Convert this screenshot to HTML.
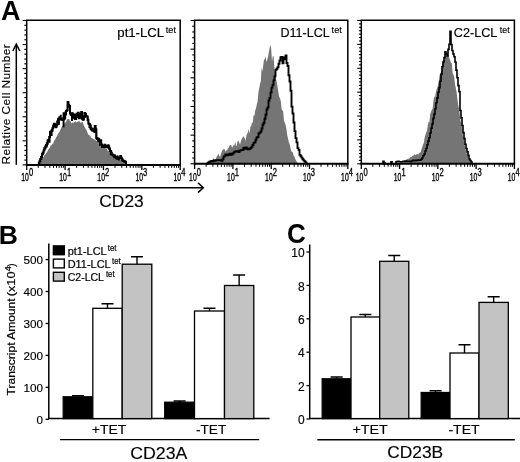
<!DOCTYPE html>
<html><head><meta charset="utf-8"><title>Figure</title>
<style>html,body{margin:0;padding:0;background:#fff}body{width:520px;height:462px;overflow:hidden;font-family:"Liberation Sans",sans-serif}svg text{font-family:"Liberation Sans",sans-serif;fill:#000}</style></head>
<body>
<svg width="520" height="462" viewBox="0 0 520 462" style="display:block;will-change:transform">
<defs><filter id="soft" x="0" y="0" width="100%" height="100%" filterUnits="userSpaceOnUse"><feGaussianBlur stdDeviation="0.38"/></filter></defs>
<rect width="520" height="462" fill="#fff"/>
<g filter="url(#soft)">
<rect x="-5" y="-5" width="530" height="472" fill="#fff"/>
<path d="M39.5,164.9L39.5,164.9L40.3,163.3L41.1,161.3L41.9,159.2L42.7,157.7L43.5,157.0L44.3,155.6L45.1,154.4L45.9,153.7L46.7,152.4L47.5,151.3L48.3,149.5L49.1,148.6L49.9,147.4L50.7,145.5L51.5,145.2L52.3,143.9L53.1,143.7L53.9,141.4L54.7,139.8L55.5,139.1L56.3,137.1L57.1,136.1L57.9,134.0L58.7,132.8L59.5,131.7L60.3,130.0L61.1,128.2L61.9,126.2L62.7,125.8L63.5,124.4L64.3,123.9L65.1,122.6L65.9,122.1L66.7,120.2L67.5,119.1L68.3,118.7L69.1,119.1L69.9,121.0L70.7,121.4L71.5,123.5L72.3,122.4L73.1,122.8L73.9,122.7L74.7,122.0L75.5,121.0L76.3,122.6L77.1,121.6L77.9,122.2L78.7,120.8L79.5,121.3L80.3,122.4L81.1,122.9L81.9,121.4L82.7,122.0L83.5,124.5L84.3,126.6L85.1,127.8L85.9,129.5L86.7,130.3L87.5,132.8L88.3,134.7L89.1,135.1L89.9,135.5L90.7,136.7L91.5,138.3L92.3,137.9L93.1,139.2L93.9,139.1L94.7,139.8L95.5,140.2L96.3,140.9L97.1,142.1L97.9,142.1L98.7,143.4L99.5,143.7L100.3,144.5L101.1,145.7L101.9,144.8L102.7,146.5L103.5,147.1L104.3,147.0L105.1,148.3L105.9,148.7L106.7,148.7L107.5,150.4L108.3,150.9L109.1,151.9L109.9,152.7L110.7,153.9L111.5,154.2L112.3,154.9L113.1,155.7L113.9,155.5L114.7,156.9L115.5,156.8L116.3,157.7L117.1,157.8L117.9,158.2L118.7,158.8L119.5,159.7L120.3,159.8L121.1,159.9L121.9,160.6L122.7,161.0L123.5,161.7L124.3,162.2L125.1,163.0L125.9,163.6L126.7,164.6L126.7,164.9Z" fill="#757575" stroke="none"/>
<path d="M38.0,164.9V164.9H38.8V162.7H39.6V161.0H40.4V158.9H41.2V157.3H42.0V153.8H42.8V152.5H43.6V150.4H44.4V148.3H45.2V146.6H46.0V145.1H46.8V143.3H47.6V140.6H48.4V140.0H49.2V136.9H50.0V131.7H50.8V134.9H51.6V130.9H52.4V128.3H53.2V125.7H54.0V123.7H54.8V126.4H55.6V124.9H56.4V125.2H57.2V121.4H58.0V124.1H58.8V118.6H59.6V118.9H60.4V118.8H61.2V119.7H62.0V119.6H62.8V120.1H63.6V113.2H64.4V117.6H65.2V114.6H66.0V111.1H66.8V110.3H67.6V102.1H68.4V104.8H69.2V105.9H70.0V113.2H70.8V113.5H71.6V113.2H72.4V117.7H73.2V114.5H74.0V115.8H74.8V118.5H75.6V115.1H76.4V113.7H77.2V114.9H78.0V112.8H78.8V118.3H79.6V114.1H80.4V115.0H81.2V112.1H82.0V118.8H82.8V119.8H83.6V116.8H84.4V113.1H85.2V113.9H86.0V116.5H86.8V116.5H87.6V120.0H88.4V123.5H89.2V124.2H90.0V125.4H90.8V128.9H91.6V128.6H92.4V130.5H93.2V129.3H94.0V130.7H94.8V126.0H95.6V129.6H96.4V137.9H97.2V138.4H98.0V138.7H98.8V140.3H99.6V141.9H100.4V140.2H101.2V144.6H102.0V146.7H102.8V146.5H103.6V147.1H104.4V144.8H105.2V146.5H106.0V145.7H106.8V146.0H107.6V145.7H108.4V146.6H109.2V148.4H110.0V151.2H110.8V154.3H111.6V154.2H112.4V154.9H113.2V155.5H114.0V155.4H114.8V156.7H115.6V158.3H116.4V156.8H117.2V158.7H118.0V158.6H118.8V157.6H119.6V157.2H120.4V157.0H121.2V158.6H122.0V159.6H122.8V161.0H123.6V160.8H124.4V161.5H125.2V161.8H126.0V163.4V164.9" fill="none" stroke="#000" stroke-width="2.0" stroke-linejoin="miter"/>
<path d="M38.0,164.9V164.9H38.7V163.3H39.4V162.0H40.1V159.2H40.8V156.6H41.5V156.0H42.2V154.8H42.9V153.9H43.6V149.5H44.3V147.7H45.0V148.8H45.7V146.9H46.4V147.0H47.1V144.4H47.8V140.9H48.5V138.8H49.2V142.1H49.9V135.2H50.6V132.5H51.3V129.9H52.0V130.5H52.7V128.3H53.4V123.6H54.1V123.6H54.8V126.9H55.5V127.7H56.2V127.5H56.9V124.6H57.6V118.9H58.3V123.0H59.0V116.9H59.7V118.6H60.4V115.4H61.1V119.3H61.8V118.1H62.5V120.1H63.2V126.6H63.9V118.3H64.6V119.2H65.3V111.4H66.0V111.3H66.7V110.2H67.4V104.8H68.1V104.5H68.8V107.5H69.5V108.5H70.2V115.2H70.9V114.7H71.6V120.3H72.3V113.2H73.0V114.7H73.7V115.1H74.4V119.4H75.1V117.4H75.8V119.4H76.5V115.0H77.2V117.5H77.9V117.5H78.6V117.9H79.3V115.9H80.0V117.8H80.7V115.4H81.4V118.6H82.1V115.6H82.8V119.7H83.5V119.2H84.2V117.3H84.9V115.7H85.6V116.5H86.3V115.9H87.0V116.3H87.7V119.2H88.4V123.5H89.1V127.5H89.8V127.9H90.5V129.5H91.2V130.5H91.9V130.7H92.6V130.0H93.3V131.5H94.0V132.3H94.7V126.1H95.4V128.0H96.1V139.0H96.8V139.4H97.5V141.2H98.2V141.6H98.9V138.7H99.6V145.2H100.3V145.2H101.0V144.5H101.7V147.3H102.4V147.0H103.1V145.3H103.8V146.2H104.5V146.7H105.2V147.6H105.9V147.0H106.6V146.1H107.3V148.0H108.0V144.9H108.7V148.9H109.4V151.0H110.1V150.9H110.8V150.6H111.5V152.4H112.2V154.4H112.9V155.5H113.6V157.1H114.3V155.0H115.0V156.6H115.7V157.7H116.4V157.5H117.1V156.1H117.8V159.0H118.5V159.8H119.2V158.1H119.9V155.7H120.6V155.6H121.3V157.7H122.0V161.0H122.7V160.6H123.4V160.7H124.1V162.1H124.8V161.4H125.5V163.0H126.2V163.9V164.9" fill="none" stroke="#000" stroke-width="1.2" stroke-linejoin="miter"/>
<path d="M208.0,163.8L208.0,163.8L208.8,163.3L209.6,162.8L210.4,162.6L211.2,161.6L212.0,160.1L212.8,159.7L213.6,157.9L214.4,160.6L215.2,159.9L216.0,158.6L216.8,156.4L217.6,155.6L218.4,153.5L219.2,155.4L220.0,157.3L220.8,154.4L221.6,152.0L222.4,150.0L223.2,149.7L224.0,148.4L224.8,149.8L225.6,151.8L226.4,150.6L227.2,149.7L228.0,148.2L228.8,147.8L229.6,145.6L230.4,145.1L231.2,145.0L232.0,147.7L232.8,146.4L233.6,145.1L234.4,145.5L235.2,141.3L236.0,146.1L236.8,145.4L237.6,141.0L238.4,140.8L239.2,142.4L240.0,144.5L240.8,141.5L241.6,139.3L242.4,137.7L243.2,135.9L244.0,137.4L244.8,138.2L245.6,141.3L246.4,135.5L247.2,133.7L248.0,131.9L248.8,128.9L249.6,133.9L250.4,126.6L251.2,125.9L252.0,122.6L252.8,122.8L253.6,114.5L254.4,116.2L255.2,110.4L256.0,108.4L256.8,104.6L257.6,101.6L258.4,92.4L259.2,88.4L260.0,83.7L260.8,81.2L261.6,67.6L262.4,71.4L263.2,65.8L264.0,59.6L264.8,59.3L265.6,56.2L266.4,62.1L267.2,60.0L268.0,56.7L268.8,52.3L269.6,47.9L270.4,44.8L271.2,49.1L272.0,61.7L272.8,56.3L273.6,56.3L274.4,68.1L275.2,72.9L276.0,78.8L276.8,82.4L277.6,87.3L278.4,92.4L279.2,97.0L280.0,97.9L280.8,101.5L281.6,109.0L282.4,110.2L283.2,111.5L284.0,120.8L284.8,122.7L285.6,125.1L286.4,128.7L287.2,135.1L288.0,138.3L288.8,141.9L289.6,144.3L290.4,147.6L291.2,151.3L292.0,151.7L292.8,152.6L293.6,155.6L294.4,156.8L295.2,158.8L296.0,160.4L296.8,161.4L297.6,163.0L297.6,163.8Z" fill="#757575" stroke="none"/>
<path d="M206.5,163.8V163.8H207.5V163.1H208.5V162.3H209.5V161.7H210.5V161.2H211.5V161.0H212.5V161.2H213.5V160.5H214.5V160.7H215.5V160.3H216.5V160.2H217.5V160.3H218.5V160.4H219.5V160.3H220.5V160.3H221.5V160.7H222.5V159.4H223.5V156.8H224.5V155.8H225.5V154.5H226.5V154.5H227.5V155.4H228.5V154.6H229.5V153.7H230.5V154.8H231.5V154.5H232.5V153.5H233.5V152.6H234.5V151.7H235.5V151.4H236.5V151.1H237.5V151.2H238.5V152.1H239.5V150.5H240.5V150.4H241.5V150.1H242.5V149.8H243.5V147.6H244.5V148.7H245.5V147.5H246.5V148.2H247.5V149.3H248.5V149.3H249.5V148.7H250.5V147.9H251.5V146.7H252.5V145.0H253.5V142.9H254.5V142.4H255.5V139.8H256.5V137.5H257.5V137.0H258.5V133.5H259.5V132.7H260.5V131.5H261.5V128.5H262.5V124.8H263.5V122.7H264.5V118.7H265.5V114.7H266.5V109.5H267.5V107.5H268.5V100.5H269.5V97.9H270.5V92.5H271.5V87.6H272.5V85.0H273.5V80.4H274.5V76.2H275.5V69.9H276.5V68.7H277.5V67.2H278.5V63.8H279.5V60.5H280.5V57.2H281.5V56.9H282.5V63.2H283.5V57.4H284.5V59.3H285.5V55.4H286.5V63.0H287.5V66.0H288.5V75.2H289.5V81.5H290.5V90.8H291.5V106.6H292.5V113.5H293.5V122.5H294.5V131.1H295.5V138.1H296.5V142.4H297.5V148.1H298.5V149.9H299.5V154.9H300.5V156.2H301.5V157.6H302.5V159.2H303.5V160.4H304.5V161.5H305.5V162.4H306.5V163.6V163.8" fill="none" stroke="#000" stroke-width="1.9" stroke-linejoin="miter"/>
<path d="M403.0,163.8L403.0,163.8L403.8,162.9L404.6,162.1L405.4,160.3L406.2,160.0L407.0,158.5L407.8,159.3L408.6,158.5L409.4,158.5L410.2,157.2L411.0,157.2L411.8,156.4L412.6,155.8L413.4,155.8L414.2,154.6L415.0,154.6L415.8,154.9L416.6,154.2L417.4,153.7L418.2,154.8L419.0,153.3L419.8,152.6L420.6,152.5L421.4,149.6L422.2,147.2L423.0,144.4L423.8,143.1L424.6,138.1L425.4,135.0L426.2,132.4L427.0,130.8L427.8,125.3L428.6,121.8L429.4,122.2L430.2,114.0L431.0,111.9L431.8,109.8L432.6,108.9L433.4,101.4L434.2,96.2L435.0,97.7L435.8,92.7L436.6,89.5L437.4,87.4L438.2,83.4L439.0,79.5L439.8,74.3L440.6,73.2L441.4,69.7L442.2,63.4L443.0,60.1L443.8,59.9L444.6,57.6L445.4,54.0L446.2,54.4L447.0,57.1L447.8,55.2L448.6,55.7L449.4,58.5L450.2,60.5L451.0,63.1L451.8,62.9L452.6,73.2L453.4,74.4L454.2,76.9L455.0,84.5L455.8,88.0L456.6,92.3L457.4,98.7L458.2,105.2L459.0,108.3L459.8,115.2L460.6,121.4L461.4,123.6L462.2,130.2L463.0,136.6L463.8,138.9L464.6,144.7L465.4,149.1L466.2,151.9L467.0,154.5L467.8,155.7L468.6,159.4L469.4,160.4L470.2,161.9L471.0,162.5L471.8,163.2L471.8,163.8Z" fill="#757575" stroke="none"/>
<path d="M382.0,163.8V163.8H383.0V161.3H384.0V163.0H385.0V163.8H386.0V163.8H387.0V163.8H388.0V163.8H389.0V163.8H390.0V163.8H391.0V161.9H392.0V163.8H393.0V163.8H394.0V163.8H395.0V163.8H396.0V161.7H397.0V161.5H398.0V161.3H399.0V161.7H400.0V161.8H401.0V161.9H402.0V161.8H403.0V161.3H404.0V161.4H405.0V161.1H406.0V161.2H407.0V161.2H408.0V161.3H409.0V161.3H410.0V161.6H411.0V161.2H412.0V160.8H413.0V160.4H414.0V160.6H415.0V160.3H416.0V160.4H417.0V160.5H418.0V160.0H419.0V160.3H420.0V160.1H421.0V159.2H422.0V157.9H423.0V155.8H424.0V154.3H425.0V151.0H426.0V148.5H427.0V144.8H428.0V141.1H429.0V137.7H430.0V133.0H431.0V128.3H432.0V124.0H433.0V118.4H434.0V114.1H435.0V108.8H436.0V102.8H437.0V98.1H438.0V92.3H439.0V87.6H440.0V81.3H441.0V74.3H442.0V66.7H443.0V62.0H444.0V57.6H445.0V51.9H446.0V53.7H447.0V55.9H448.0V49.4H449.0V44.3H450.0V31.3H451.0V44.6H452.0V50.5H453.0V54.0H454.0V56.8H455.0V62.0H456.0V70.1H457.0V77.8H458.0V85.6H459.0V91.6H460.0V110.5H461.0V117.9H462.0V125.5H463.0V132.6H464.0V138.6H465.0V144.2H466.0V148.5H467.0V151.9H468.0V155.4H469.0V159.0H470.0V160.5H471.0V162.0H472.0V163.2V163.8" fill="none" stroke="#000" stroke-width="1.6" stroke-linejoin="miter"/>
<path d="M26.7,164.9V20.2H180.2V164.9" fill="none" stroke="#000" stroke-width="1.5"/>
<path d="M25.95,164.9H180.95" fill="none" stroke="#000" stroke-width="2"/>
<line x1="22.6" y1="20.50" x2="26.7" y2="20.50" stroke="#000" stroke-width="1.1"/>
<line x1="24.3" y1="25.31" x2="26.7" y2="25.31" stroke="#000" stroke-width="1.1"/>
<line x1="24.3" y1="30.13" x2="26.7" y2="30.13" stroke="#000" stroke-width="1.1"/>
<line x1="24.3" y1="34.94" x2="26.7" y2="34.94" stroke="#000" stroke-width="1.1"/>
<line x1="24.3" y1="39.75" x2="26.7" y2="39.75" stroke="#000" stroke-width="1.1"/>
<line x1="22.6" y1="44.57" x2="26.7" y2="44.57" stroke="#000" stroke-width="1.1"/>
<line x1="24.3" y1="49.38" x2="26.7" y2="49.38" stroke="#000" stroke-width="1.1"/>
<line x1="24.3" y1="54.19" x2="26.7" y2="54.19" stroke="#000" stroke-width="1.1"/>
<line x1="24.3" y1="59.01" x2="26.7" y2="59.01" stroke="#000" stroke-width="1.1"/>
<line x1="24.3" y1="63.82" x2="26.7" y2="63.82" stroke="#000" stroke-width="1.1"/>
<line x1="22.6" y1="68.63" x2="26.7" y2="68.63" stroke="#000" stroke-width="1.1"/>
<line x1="24.3" y1="73.45" x2="26.7" y2="73.45" stroke="#000" stroke-width="1.1"/>
<line x1="24.3" y1="78.26" x2="26.7" y2="78.26" stroke="#000" stroke-width="1.1"/>
<line x1="24.3" y1="83.07" x2="26.7" y2="83.07" stroke="#000" stroke-width="1.1"/>
<line x1="24.3" y1="87.89" x2="26.7" y2="87.89" stroke="#000" stroke-width="1.1"/>
<line x1="22.6" y1="92.70" x2="26.7" y2="92.70" stroke="#000" stroke-width="1.1"/>
<line x1="24.3" y1="97.51" x2="26.7" y2="97.51" stroke="#000" stroke-width="1.1"/>
<line x1="24.3" y1="102.33" x2="26.7" y2="102.33" stroke="#000" stroke-width="1.1"/>
<line x1="24.3" y1="107.14" x2="26.7" y2="107.14" stroke="#000" stroke-width="1.1"/>
<line x1="24.3" y1="111.95" x2="26.7" y2="111.95" stroke="#000" stroke-width="1.1"/>
<line x1="22.6" y1="116.77" x2="26.7" y2="116.77" stroke="#000" stroke-width="1.1"/>
<line x1="24.3" y1="121.58" x2="26.7" y2="121.58" stroke="#000" stroke-width="1.1"/>
<line x1="24.3" y1="126.39" x2="26.7" y2="126.39" stroke="#000" stroke-width="1.1"/>
<line x1="24.3" y1="131.21" x2="26.7" y2="131.21" stroke="#000" stroke-width="1.1"/>
<line x1="24.3" y1="136.02" x2="26.7" y2="136.02" stroke="#000" stroke-width="1.1"/>
<line x1="22.6" y1="140.83" x2="26.7" y2="140.83" stroke="#000" stroke-width="1.1"/>
<line x1="24.3" y1="145.65" x2="26.7" y2="145.65" stroke="#000" stroke-width="1.1"/>
<line x1="24.3" y1="150.46" x2="26.7" y2="150.46" stroke="#000" stroke-width="1.1"/>
<line x1="24.3" y1="155.27" x2="26.7" y2="155.27" stroke="#000" stroke-width="1.1"/>
<line x1="24.3" y1="160.09" x2="26.7" y2="160.09" stroke="#000" stroke-width="1.1"/>
<line x1="22.6" y1="164.90" x2="26.7" y2="164.90" stroke="#000" stroke-width="1.1"/>
<line x1="26.70" y1="164.9" x2="26.70" y2="170.1" stroke="#000" stroke-width="1.3"/>
<line x1="38.25" y1="164.9" x2="38.25" y2="167.9" stroke="#000" stroke-width="1"/>
<line x1="45.01" y1="164.9" x2="45.01" y2="167.9" stroke="#000" stroke-width="1"/>
<line x1="49.80" y1="164.9" x2="49.80" y2="167.9" stroke="#000" stroke-width="1"/>
<line x1="53.52" y1="164.9" x2="53.52" y2="167.9" stroke="#000" stroke-width="1"/>
<line x1="56.56" y1="164.9" x2="56.56" y2="167.9" stroke="#000" stroke-width="1"/>
<line x1="59.13" y1="164.9" x2="59.13" y2="167.9" stroke="#000" stroke-width="1"/>
<line x1="61.36" y1="164.9" x2="61.36" y2="167.9" stroke="#000" stroke-width="1"/>
<line x1="63.32" y1="164.9" x2="63.32" y2="167.9" stroke="#000" stroke-width="1"/>
<text font-family="Liberation Sans, sans-serif" font-size="10.3" x="21.20" y="180.6" textLength="7.6" lengthAdjust="spacingAndGlyphs" stroke="#000" stroke-width="0.35">10</text>
<text font-family="Liberation Sans, sans-serif" font-size="10.3" x="28.90" y="175.5" textLength="4.2" lengthAdjust="spacingAndGlyphs" stroke="#000" stroke-width="0.35">0</text>
<line x1="65.08" y1="164.9" x2="65.08" y2="170.1" stroke="#000" stroke-width="1.3"/>
<line x1="76.63" y1="164.9" x2="76.63" y2="167.9" stroke="#000" stroke-width="1"/>
<line x1="83.38" y1="164.9" x2="83.38" y2="167.9" stroke="#000" stroke-width="1"/>
<line x1="88.18" y1="164.9" x2="88.18" y2="167.9" stroke="#000" stroke-width="1"/>
<line x1="91.90" y1="164.9" x2="91.90" y2="167.9" stroke="#000" stroke-width="1"/>
<line x1="94.94" y1="164.9" x2="94.94" y2="167.9" stroke="#000" stroke-width="1"/>
<line x1="97.51" y1="164.9" x2="97.51" y2="167.9" stroke="#000" stroke-width="1"/>
<line x1="99.73" y1="164.9" x2="99.73" y2="167.9" stroke="#000" stroke-width="1"/>
<line x1="101.69" y1="164.9" x2="101.69" y2="167.9" stroke="#000" stroke-width="1"/>
<text font-family="Liberation Sans, sans-serif" font-size="10.3" x="59.28" y="180.6" textLength="7.6" lengthAdjust="spacingAndGlyphs" stroke="#000" stroke-width="0.35">10</text>
<text font-family="Liberation Sans, sans-serif" font-size="10.3" x="66.98" y="175.5" textLength="4.2" lengthAdjust="spacingAndGlyphs" stroke="#000" stroke-width="0.35">1</text>
<line x1="103.45" y1="164.9" x2="103.45" y2="170.1" stroke="#000" stroke-width="1.3"/>
<line x1="115.00" y1="164.9" x2="115.00" y2="167.9" stroke="#000" stroke-width="1"/>
<line x1="121.76" y1="164.9" x2="121.76" y2="167.9" stroke="#000" stroke-width="1"/>
<line x1="126.55" y1="164.9" x2="126.55" y2="167.9" stroke="#000" stroke-width="1"/>
<line x1="130.27" y1="164.9" x2="130.27" y2="167.9" stroke="#000" stroke-width="1"/>
<line x1="133.31" y1="164.9" x2="133.31" y2="167.9" stroke="#000" stroke-width="1"/>
<line x1="135.88" y1="164.9" x2="135.88" y2="167.9" stroke="#000" stroke-width="1"/>
<line x1="138.11" y1="164.9" x2="138.11" y2="167.9" stroke="#000" stroke-width="1"/>
<line x1="140.07" y1="164.9" x2="140.07" y2="167.9" stroke="#000" stroke-width="1"/>
<text font-family="Liberation Sans, sans-serif" font-size="10.3" x="97.35" y="180.6" textLength="7.6" lengthAdjust="spacingAndGlyphs" stroke="#000" stroke-width="0.35">10</text>
<text font-family="Liberation Sans, sans-serif" font-size="10.3" x="105.05" y="175.5" textLength="4.2" lengthAdjust="spacingAndGlyphs" stroke="#000" stroke-width="0.35">2</text>
<line x1="141.82" y1="164.9" x2="141.82" y2="170.1" stroke="#000" stroke-width="1.3"/>
<line x1="153.38" y1="164.9" x2="153.38" y2="167.9" stroke="#000" stroke-width="1"/>
<line x1="160.13" y1="164.9" x2="160.13" y2="167.9" stroke="#000" stroke-width="1"/>
<line x1="164.93" y1="164.9" x2="164.93" y2="167.9" stroke="#000" stroke-width="1"/>
<line x1="168.65" y1="164.9" x2="168.65" y2="167.9" stroke="#000" stroke-width="1"/>
<line x1="171.69" y1="164.9" x2="171.69" y2="167.9" stroke="#000" stroke-width="1"/>
<line x1="174.26" y1="164.9" x2="174.26" y2="167.9" stroke="#000" stroke-width="1"/>
<line x1="176.48" y1="164.9" x2="176.48" y2="167.9" stroke="#000" stroke-width="1"/>
<line x1="178.44" y1="164.9" x2="178.44" y2="167.9" stroke="#000" stroke-width="1"/>
<text font-family="Liberation Sans, sans-serif" font-size="10.3" x="135.42" y="180.6" textLength="7.6" lengthAdjust="spacingAndGlyphs" stroke="#000" stroke-width="0.35">10</text>
<text font-family="Liberation Sans, sans-serif" font-size="10.3" x="143.12" y="175.5" textLength="4.2" lengthAdjust="spacingAndGlyphs" stroke="#000" stroke-width="0.35">3</text>
<line x1="180.20" y1="164.9" x2="180.20" y2="170.1" stroke="#000" stroke-width="1.3"/>
<text font-family="Liberation Sans, sans-serif" font-size="10.3" x="173.50" y="180.6" textLength="7.6" lengthAdjust="spacingAndGlyphs" stroke="#000" stroke-width="0.35">10</text>
<text font-family="Liberation Sans, sans-serif" font-size="10.3" x="181.20" y="175.5" textLength="4.2" lengthAdjust="spacingAndGlyphs" stroke="#000" stroke-width="0.35">4</text>
<path d="M194.6,163.8V20.2H347.8V163.8" fill="none" stroke="#000" stroke-width="1.5"/>
<path d="M193.85,163.8H348.55" fill="none" stroke="#000" stroke-width="2"/>
<line x1="190.5" y1="20.50" x2="194.6" y2="20.50" stroke="#000" stroke-width="1.1"/>
<line x1="192.2" y1="26.23" x2="194.6" y2="26.23" stroke="#000" stroke-width="1.1"/>
<line x1="192.2" y1="31.96" x2="194.6" y2="31.96" stroke="#000" stroke-width="1.1"/>
<line x1="192.2" y1="37.70" x2="194.6" y2="37.70" stroke="#000" stroke-width="1.1"/>
<line x1="192.2" y1="43.43" x2="194.6" y2="43.43" stroke="#000" stroke-width="1.1"/>
<line x1="190.5" y1="49.16" x2="194.6" y2="49.16" stroke="#000" stroke-width="1.1"/>
<line x1="192.2" y1="54.89" x2="194.6" y2="54.89" stroke="#000" stroke-width="1.1"/>
<line x1="192.2" y1="60.62" x2="194.6" y2="60.62" stroke="#000" stroke-width="1.1"/>
<line x1="192.2" y1="66.36" x2="194.6" y2="66.36" stroke="#000" stroke-width="1.1"/>
<line x1="192.2" y1="72.09" x2="194.6" y2="72.09" stroke="#000" stroke-width="1.1"/>
<line x1="190.5" y1="77.82" x2="194.6" y2="77.82" stroke="#000" stroke-width="1.1"/>
<line x1="192.2" y1="83.55" x2="194.6" y2="83.55" stroke="#000" stroke-width="1.1"/>
<line x1="192.2" y1="89.28" x2="194.6" y2="89.28" stroke="#000" stroke-width="1.1"/>
<line x1="192.2" y1="95.02" x2="194.6" y2="95.02" stroke="#000" stroke-width="1.1"/>
<line x1="192.2" y1="100.75" x2="194.6" y2="100.75" stroke="#000" stroke-width="1.1"/>
<line x1="190.5" y1="106.48" x2="194.6" y2="106.48" stroke="#000" stroke-width="1.1"/>
<line x1="192.2" y1="112.21" x2="194.6" y2="112.21" stroke="#000" stroke-width="1.1"/>
<line x1="192.2" y1="117.94" x2="194.6" y2="117.94" stroke="#000" stroke-width="1.1"/>
<line x1="192.2" y1="123.68" x2="194.6" y2="123.68" stroke="#000" stroke-width="1.1"/>
<line x1="192.2" y1="129.41" x2="194.6" y2="129.41" stroke="#000" stroke-width="1.1"/>
<line x1="190.5" y1="135.14" x2="194.6" y2="135.14" stroke="#000" stroke-width="1.1"/>
<line x1="192.2" y1="140.87" x2="194.6" y2="140.87" stroke="#000" stroke-width="1.1"/>
<line x1="192.2" y1="146.60" x2="194.6" y2="146.60" stroke="#000" stroke-width="1.1"/>
<line x1="192.2" y1="152.34" x2="194.6" y2="152.34" stroke="#000" stroke-width="1.1"/>
<line x1="192.2" y1="158.07" x2="194.6" y2="158.07" stroke="#000" stroke-width="1.1"/>
<line x1="190.5" y1="163.80" x2="194.6" y2="163.80" stroke="#000" stroke-width="1.1"/>
<line x1="194.60" y1="163.8" x2="194.60" y2="169.0" stroke="#000" stroke-width="1.3"/>
<line x1="206.13" y1="163.8" x2="206.13" y2="166.8" stroke="#000" stroke-width="1"/>
<line x1="212.87" y1="163.8" x2="212.87" y2="166.8" stroke="#000" stroke-width="1"/>
<line x1="217.66" y1="163.8" x2="217.66" y2="166.8" stroke="#000" stroke-width="1"/>
<line x1="221.37" y1="163.8" x2="221.37" y2="166.8" stroke="#000" stroke-width="1"/>
<line x1="224.40" y1="163.8" x2="224.40" y2="166.8" stroke="#000" stroke-width="1"/>
<line x1="226.97" y1="163.8" x2="226.97" y2="166.8" stroke="#000" stroke-width="1"/>
<line x1="229.19" y1="163.8" x2="229.19" y2="166.8" stroke="#000" stroke-width="1"/>
<line x1="231.15" y1="163.8" x2="231.15" y2="166.8" stroke="#000" stroke-width="1"/>
<text font-family="Liberation Sans, sans-serif" font-size="10.3" x="189.10" y="180.6" textLength="7.6" lengthAdjust="spacingAndGlyphs" stroke="#000" stroke-width="0.35">10</text>
<text font-family="Liberation Sans, sans-serif" font-size="10.3" x="196.80" y="175.5" textLength="4.2" lengthAdjust="spacingAndGlyphs" stroke="#000" stroke-width="0.35">0</text>
<line x1="232.90" y1="163.8" x2="232.90" y2="169.0" stroke="#000" stroke-width="1.3"/>
<line x1="244.43" y1="163.8" x2="244.43" y2="166.8" stroke="#000" stroke-width="1"/>
<line x1="251.17" y1="163.8" x2="251.17" y2="166.8" stroke="#000" stroke-width="1"/>
<line x1="255.96" y1="163.8" x2="255.96" y2="166.8" stroke="#000" stroke-width="1"/>
<line x1="259.67" y1="163.8" x2="259.67" y2="166.8" stroke="#000" stroke-width="1"/>
<line x1="262.70" y1="163.8" x2="262.70" y2="166.8" stroke="#000" stroke-width="1"/>
<line x1="265.27" y1="163.8" x2="265.27" y2="166.8" stroke="#000" stroke-width="1"/>
<line x1="267.49" y1="163.8" x2="267.49" y2="166.8" stroke="#000" stroke-width="1"/>
<line x1="269.45" y1="163.8" x2="269.45" y2="166.8" stroke="#000" stroke-width="1"/>
<text font-family="Liberation Sans, sans-serif" font-size="10.3" x="227.10" y="180.6" textLength="7.6" lengthAdjust="spacingAndGlyphs" stroke="#000" stroke-width="0.35">10</text>
<text font-family="Liberation Sans, sans-serif" font-size="10.3" x="234.80" y="175.5" textLength="4.2" lengthAdjust="spacingAndGlyphs" stroke="#000" stroke-width="0.35">1</text>
<line x1="271.20" y1="163.8" x2="271.20" y2="169.0" stroke="#000" stroke-width="1.3"/>
<line x1="282.73" y1="163.8" x2="282.73" y2="166.8" stroke="#000" stroke-width="1"/>
<line x1="289.47" y1="163.8" x2="289.47" y2="166.8" stroke="#000" stroke-width="1"/>
<line x1="294.26" y1="163.8" x2="294.26" y2="166.8" stroke="#000" stroke-width="1"/>
<line x1="297.97" y1="163.8" x2="297.97" y2="166.8" stroke="#000" stroke-width="1"/>
<line x1="301.00" y1="163.8" x2="301.00" y2="166.8" stroke="#000" stroke-width="1"/>
<line x1="303.57" y1="163.8" x2="303.57" y2="166.8" stroke="#000" stroke-width="1"/>
<line x1="305.79" y1="163.8" x2="305.79" y2="166.8" stroke="#000" stroke-width="1"/>
<line x1="307.75" y1="163.8" x2="307.75" y2="166.8" stroke="#000" stroke-width="1"/>
<text font-family="Liberation Sans, sans-serif" font-size="10.3" x="265.10" y="180.6" textLength="7.6" lengthAdjust="spacingAndGlyphs" stroke="#000" stroke-width="0.35">10</text>
<text font-family="Liberation Sans, sans-serif" font-size="10.3" x="272.80" y="175.5" textLength="4.2" lengthAdjust="spacingAndGlyphs" stroke="#000" stroke-width="0.35">2</text>
<line x1="309.50" y1="163.8" x2="309.50" y2="169.0" stroke="#000" stroke-width="1.3"/>
<line x1="321.03" y1="163.8" x2="321.03" y2="166.8" stroke="#000" stroke-width="1"/>
<line x1="327.77" y1="163.8" x2="327.77" y2="166.8" stroke="#000" stroke-width="1"/>
<line x1="332.56" y1="163.8" x2="332.56" y2="166.8" stroke="#000" stroke-width="1"/>
<line x1="336.27" y1="163.8" x2="336.27" y2="166.8" stroke="#000" stroke-width="1"/>
<line x1="339.30" y1="163.8" x2="339.30" y2="166.8" stroke="#000" stroke-width="1"/>
<line x1="341.87" y1="163.8" x2="341.87" y2="166.8" stroke="#000" stroke-width="1"/>
<line x1="344.09" y1="163.8" x2="344.09" y2="166.8" stroke="#000" stroke-width="1"/>
<line x1="346.05" y1="163.8" x2="346.05" y2="166.8" stroke="#000" stroke-width="1"/>
<text font-family="Liberation Sans, sans-serif" font-size="10.3" x="303.10" y="180.6" textLength="7.6" lengthAdjust="spacingAndGlyphs" stroke="#000" stroke-width="0.35">10</text>
<text font-family="Liberation Sans, sans-serif" font-size="10.3" x="310.80" y="175.5" textLength="4.2" lengthAdjust="spacingAndGlyphs" stroke="#000" stroke-width="0.35">3</text>
<line x1="347.80" y1="163.8" x2="347.80" y2="169.0" stroke="#000" stroke-width="1.3"/>
<text font-family="Liberation Sans, sans-serif" font-size="10.3" x="341.10" y="180.6" textLength="7.6" lengthAdjust="spacingAndGlyphs" stroke="#000" stroke-width="0.35">10</text>
<text font-family="Liberation Sans, sans-serif" font-size="10.3" x="348.80" y="175.5" textLength="4.2" lengthAdjust="spacingAndGlyphs" stroke="#000" stroke-width="0.35">4</text>
<path d="M361.3,163.8V20.2H514.4V163.8" fill="none" stroke="#000" stroke-width="1.5"/>
<path d="M360.55,163.8H515.15" fill="none" stroke="#000" stroke-width="2"/>
<line x1="357.2" y1="20.50" x2="361.3" y2="20.50" stroke="#000" stroke-width="1.1"/>
<line x1="358.9" y1="23.91" x2="361.3" y2="23.91" stroke="#000" stroke-width="1.1"/>
<line x1="358.9" y1="27.32" x2="361.3" y2="27.32" stroke="#000" stroke-width="1.1"/>
<line x1="358.9" y1="30.74" x2="361.3" y2="30.74" stroke="#000" stroke-width="1.1"/>
<line x1="358.9" y1="34.15" x2="361.3" y2="34.15" stroke="#000" stroke-width="1.1"/>
<line x1="358.9" y1="37.56" x2="361.3" y2="37.56" stroke="#000" stroke-width="1.1"/>
<line x1="358.9" y1="40.97" x2="361.3" y2="40.97" stroke="#000" stroke-width="1.1"/>
<line x1="357.2" y1="44.38" x2="361.3" y2="44.38" stroke="#000" stroke-width="1.1"/>
<line x1="358.9" y1="47.80" x2="361.3" y2="47.80" stroke="#000" stroke-width="1.1"/>
<line x1="358.9" y1="51.21" x2="361.3" y2="51.21" stroke="#000" stroke-width="1.1"/>
<line x1="358.9" y1="54.62" x2="361.3" y2="54.62" stroke="#000" stroke-width="1.1"/>
<line x1="358.9" y1="58.03" x2="361.3" y2="58.03" stroke="#000" stroke-width="1.1"/>
<line x1="358.9" y1="61.44" x2="361.3" y2="61.44" stroke="#000" stroke-width="1.1"/>
<line x1="358.9" y1="64.85" x2="361.3" y2="64.85" stroke="#000" stroke-width="1.1"/>
<line x1="357.2" y1="68.27" x2="361.3" y2="68.27" stroke="#000" stroke-width="1.1"/>
<line x1="358.9" y1="71.68" x2="361.3" y2="71.68" stroke="#000" stroke-width="1.1"/>
<line x1="358.9" y1="75.09" x2="361.3" y2="75.09" stroke="#000" stroke-width="1.1"/>
<line x1="358.9" y1="78.50" x2="361.3" y2="78.50" stroke="#000" stroke-width="1.1"/>
<line x1="358.9" y1="81.91" x2="361.3" y2="81.91" stroke="#000" stroke-width="1.1"/>
<line x1="358.9" y1="85.33" x2="361.3" y2="85.33" stroke="#000" stroke-width="1.1"/>
<line x1="358.9" y1="88.74" x2="361.3" y2="88.74" stroke="#000" stroke-width="1.1"/>
<line x1="357.2" y1="92.15" x2="361.3" y2="92.15" stroke="#000" stroke-width="1.1"/>
<line x1="358.9" y1="95.56" x2="361.3" y2="95.56" stroke="#000" stroke-width="1.1"/>
<line x1="358.9" y1="98.97" x2="361.3" y2="98.97" stroke="#000" stroke-width="1.1"/>
<line x1="358.9" y1="102.39" x2="361.3" y2="102.39" stroke="#000" stroke-width="1.1"/>
<line x1="358.9" y1="105.80" x2="361.3" y2="105.80" stroke="#000" stroke-width="1.1"/>
<line x1="358.9" y1="109.21" x2="361.3" y2="109.21" stroke="#000" stroke-width="1.1"/>
<line x1="358.9" y1="112.62" x2="361.3" y2="112.62" stroke="#000" stroke-width="1.1"/>
<line x1="357.2" y1="116.03" x2="361.3" y2="116.03" stroke="#000" stroke-width="1.1"/>
<line x1="358.9" y1="119.45" x2="361.3" y2="119.45" stroke="#000" stroke-width="1.1"/>
<line x1="358.9" y1="122.86" x2="361.3" y2="122.86" stroke="#000" stroke-width="1.1"/>
<line x1="358.9" y1="126.27" x2="361.3" y2="126.27" stroke="#000" stroke-width="1.1"/>
<line x1="358.9" y1="129.68" x2="361.3" y2="129.68" stroke="#000" stroke-width="1.1"/>
<line x1="358.9" y1="133.09" x2="361.3" y2="133.09" stroke="#000" stroke-width="1.1"/>
<line x1="358.9" y1="136.50" x2="361.3" y2="136.50" stroke="#000" stroke-width="1.1"/>
<line x1="357.2" y1="139.92" x2="361.3" y2="139.92" stroke="#000" stroke-width="1.1"/>
<line x1="358.9" y1="143.33" x2="361.3" y2="143.33" stroke="#000" stroke-width="1.1"/>
<line x1="358.9" y1="146.74" x2="361.3" y2="146.74" stroke="#000" stroke-width="1.1"/>
<line x1="358.9" y1="150.15" x2="361.3" y2="150.15" stroke="#000" stroke-width="1.1"/>
<line x1="358.9" y1="153.56" x2="361.3" y2="153.56" stroke="#000" stroke-width="1.1"/>
<line x1="358.9" y1="156.98" x2="361.3" y2="156.98" stroke="#000" stroke-width="1.1"/>
<line x1="358.9" y1="160.39" x2="361.3" y2="160.39" stroke="#000" stroke-width="1.1"/>
<line x1="357.2" y1="163.80" x2="361.3" y2="163.80" stroke="#000" stroke-width="1.1"/>
<line x1="361.30" y1="163.8" x2="361.30" y2="169.0" stroke="#000" stroke-width="1.3"/>
<line x1="372.82" y1="163.8" x2="372.82" y2="166.8" stroke="#000" stroke-width="1"/>
<line x1="379.56" y1="163.8" x2="379.56" y2="166.8" stroke="#000" stroke-width="1"/>
<line x1="384.34" y1="163.8" x2="384.34" y2="166.8" stroke="#000" stroke-width="1"/>
<line x1="388.05" y1="163.8" x2="388.05" y2="166.8" stroke="#000" stroke-width="1"/>
<line x1="391.08" y1="163.8" x2="391.08" y2="166.8" stroke="#000" stroke-width="1"/>
<line x1="393.65" y1="163.8" x2="393.65" y2="166.8" stroke="#000" stroke-width="1"/>
<line x1="395.87" y1="163.8" x2="395.87" y2="166.8" stroke="#000" stroke-width="1"/>
<line x1="397.82" y1="163.8" x2="397.82" y2="166.8" stroke="#000" stroke-width="1"/>
<text font-family="Liberation Sans, sans-serif" font-size="10.3" x="355.80" y="180.6" textLength="7.6" lengthAdjust="spacingAndGlyphs" stroke="#000" stroke-width="0.35">10</text>
<text font-family="Liberation Sans, sans-serif" font-size="10.3" x="363.50" y="175.5" textLength="4.2" lengthAdjust="spacingAndGlyphs" stroke="#000" stroke-width="0.35">0</text>
<line x1="399.57" y1="163.8" x2="399.57" y2="169.0" stroke="#000" stroke-width="1.3"/>
<line x1="411.10" y1="163.8" x2="411.10" y2="166.8" stroke="#000" stroke-width="1"/>
<line x1="417.84" y1="163.8" x2="417.84" y2="166.8" stroke="#000" stroke-width="1"/>
<line x1="422.62" y1="163.8" x2="422.62" y2="166.8" stroke="#000" stroke-width="1"/>
<line x1="426.33" y1="163.8" x2="426.33" y2="166.8" stroke="#000" stroke-width="1"/>
<line x1="429.36" y1="163.8" x2="429.36" y2="166.8" stroke="#000" stroke-width="1"/>
<line x1="431.92" y1="163.8" x2="431.92" y2="166.8" stroke="#000" stroke-width="1"/>
<line x1="434.14" y1="163.8" x2="434.14" y2="166.8" stroke="#000" stroke-width="1"/>
<line x1="436.10" y1="163.8" x2="436.10" y2="166.8" stroke="#000" stroke-width="1"/>
<text font-family="Liberation Sans, sans-serif" font-size="10.3" x="393.77" y="180.6" textLength="7.6" lengthAdjust="spacingAndGlyphs" stroke="#000" stroke-width="0.35">10</text>
<text font-family="Liberation Sans, sans-serif" font-size="10.3" x="401.47" y="175.5" textLength="4.2" lengthAdjust="spacingAndGlyphs" stroke="#000" stroke-width="0.35">1</text>
<line x1="437.85" y1="163.8" x2="437.85" y2="169.0" stroke="#000" stroke-width="1.3"/>
<line x1="449.37" y1="163.8" x2="449.37" y2="166.8" stroke="#000" stroke-width="1"/>
<line x1="456.11" y1="163.8" x2="456.11" y2="166.8" stroke="#000" stroke-width="1"/>
<line x1="460.89" y1="163.8" x2="460.89" y2="166.8" stroke="#000" stroke-width="1"/>
<line x1="464.60" y1="163.8" x2="464.60" y2="166.8" stroke="#000" stroke-width="1"/>
<line x1="467.63" y1="163.8" x2="467.63" y2="166.8" stroke="#000" stroke-width="1"/>
<line x1="470.20" y1="163.8" x2="470.20" y2="166.8" stroke="#000" stroke-width="1"/>
<line x1="472.42" y1="163.8" x2="472.42" y2="166.8" stroke="#000" stroke-width="1"/>
<line x1="474.37" y1="163.8" x2="474.37" y2="166.8" stroke="#000" stroke-width="1"/>
<text font-family="Liberation Sans, sans-serif" font-size="10.3" x="431.75" y="180.6" textLength="7.6" lengthAdjust="spacingAndGlyphs" stroke="#000" stroke-width="0.35">10</text>
<text font-family="Liberation Sans, sans-serif" font-size="10.3" x="439.45" y="175.5" textLength="4.2" lengthAdjust="spacingAndGlyphs" stroke="#000" stroke-width="0.35">2</text>
<line x1="476.12" y1="163.8" x2="476.12" y2="169.0" stroke="#000" stroke-width="1.3"/>
<line x1="487.65" y1="163.8" x2="487.65" y2="166.8" stroke="#000" stroke-width="1"/>
<line x1="494.39" y1="163.8" x2="494.39" y2="166.8" stroke="#000" stroke-width="1"/>
<line x1="499.17" y1="163.8" x2="499.17" y2="166.8" stroke="#000" stroke-width="1"/>
<line x1="502.88" y1="163.8" x2="502.88" y2="166.8" stroke="#000" stroke-width="1"/>
<line x1="505.91" y1="163.8" x2="505.91" y2="166.8" stroke="#000" stroke-width="1"/>
<line x1="508.47" y1="163.8" x2="508.47" y2="166.8" stroke="#000" stroke-width="1"/>
<line x1="510.69" y1="163.8" x2="510.69" y2="166.8" stroke="#000" stroke-width="1"/>
<line x1="512.65" y1="163.8" x2="512.65" y2="166.8" stroke="#000" stroke-width="1"/>
<text font-family="Liberation Sans, sans-serif" font-size="10.3" x="469.73" y="180.6" textLength="7.6" lengthAdjust="spacingAndGlyphs" stroke="#000" stroke-width="0.35">10</text>
<text font-family="Liberation Sans, sans-serif" font-size="10.3" x="477.43" y="175.5" textLength="4.2" lengthAdjust="spacingAndGlyphs" stroke="#000" stroke-width="0.35">3</text>
<line x1="514.40" y1="163.8" x2="514.40" y2="169.0" stroke="#000" stroke-width="1.3"/>
<text font-family="Liberation Sans, sans-serif" font-size="10.3" x="507.70" y="180.6" textLength="7.6" lengthAdjust="spacingAndGlyphs" stroke="#000" stroke-width="0.35">10</text>
<text font-family="Liberation Sans, sans-serif" font-size="10.3" x="515.40" y="175.5" textLength="4.2" lengthAdjust="spacingAndGlyphs" stroke="#000" stroke-width="0.35">4</text>
<text font-family="Liberation Sans, sans-serif" font-weight="bold" font-size="27" x="0.9" y="19.6">A</text>
<text font-family="Liberation Sans, sans-serif" font-weight="bold" font-size="26.5" x="-1.2" y="244">B</text>
<text font-family="Liberation Sans, sans-serif" font-weight="bold" font-size="27.2" x="286.9" y="243.4" textLength="18.8" lengthAdjust="spacingAndGlyphs">C</text>
<text font-family="Liberation Sans, sans-serif" font-size="12" x="117.3" y="36.6" textLength="46.9" lengthAdjust="spacingAndGlyphs" stroke="#000" stroke-width="0.15">pt1-LCL</text>
<text font-family="Liberation Sans, sans-serif" font-size="9.2" x="165.8" y="32.800000000000004" textLength="10.2" lengthAdjust="spacingAndGlyphs" stroke="#000" stroke-width="0.15">tet</text>
<text font-family="Liberation Sans, sans-serif" font-size="12" x="280.5" y="36.6" textLength="49.2" lengthAdjust="spacingAndGlyphs" stroke="#000" stroke-width="0.15">D11-LCL</text>
<text font-family="Liberation Sans, sans-serif" font-size="9.2" x="331.6" y="32.800000000000004" textLength="10.2" lengthAdjust="spacingAndGlyphs" stroke="#000" stroke-width="0.15">tet</text>
<text font-family="Liberation Sans, sans-serif" font-size="12" x="453.8" y="36.7" textLength="43.6" lengthAdjust="spacingAndGlyphs" stroke="#000" stroke-width="0.15">C2-LCL</text>
<text font-family="Liberation Sans, sans-serif" font-size="9.2" x="499.8" y="32.900000000000006" textLength="9.8" lengthAdjust="spacingAndGlyphs" stroke="#000" stroke-width="0.15">tet</text>
<text font-family="Liberation Sans, sans-serif" font-size="11.8" transform="translate(10.4,164.5) rotate(-90)" textLength="120.3" lengthAdjust="spacing" stroke="#000" stroke-width="0.15">Relative Cell Number</text>
<path d="M16.3,164.8V45" stroke="#000" stroke-width="1.5" fill="none"/>
<path d="M12.8,51L16.3,44.2L19.8,51" stroke="#000" stroke-width="1.5" fill="none" stroke-linejoin="miter"/>
<path d="M39.7,187.7H202.5" stroke="#000" stroke-width="1.5" fill="none"/>
<path d="M198,182.8L203.3,187.7L198,192.6" stroke="#000" stroke-width="1.5" fill="none"/>
<text font-family="Liberation Sans, sans-serif" font-size="16.4" x="99.3" y="207" textLength="44.4" lengthAdjust="spacingAndGlyphs" stroke="#000" stroke-width="0.15">CD23</text>
<path d="M48.8,243.5V418.6H269.6" stroke="#000" stroke-width="1.5" fill="none"/>
<line x1="45.599999999999994" y1="419.30" x2="48.8" y2="419.30" stroke="#000" stroke-width="1.3"/>
<text font-family="Liberation Sans, sans-serif" font-size="11.7" text-anchor="end" x="43.1" y="424.00" stroke="#000" stroke-width="0.15">0</text>
<line x1="45.599999999999994" y1="387.35" x2="48.8" y2="387.35" stroke="#000" stroke-width="1.3"/>
<text font-family="Liberation Sans, sans-serif" font-size="11.7" text-anchor="end" x="43.1" y="392.05" stroke="#000" stroke-width="0.15">100</text>
<line x1="45.599999999999994" y1="355.40" x2="48.8" y2="355.40" stroke="#000" stroke-width="1.3"/>
<text font-family="Liberation Sans, sans-serif" font-size="11.7" text-anchor="end" x="43.1" y="360.10" stroke="#000" stroke-width="0.15">200</text>
<line x1="45.599999999999994" y1="323.45" x2="48.8" y2="323.45" stroke="#000" stroke-width="1.3"/>
<text font-family="Liberation Sans, sans-serif" font-size="11.7" text-anchor="end" x="43.1" y="328.15" stroke="#000" stroke-width="0.15">300</text>
<line x1="45.599999999999994" y1="291.50" x2="48.8" y2="291.50" stroke="#000" stroke-width="1.3"/>
<text font-family="Liberation Sans, sans-serif" font-size="11.7" text-anchor="end" x="43.1" y="296.20" stroke="#000" stroke-width="0.15">400</text>
<line x1="45.599999999999994" y1="259.55" x2="48.8" y2="259.55" stroke="#000" stroke-width="1.3"/>
<text font-family="Liberation Sans, sans-serif" font-size="11.7" text-anchor="end" x="43.1" y="264.25" stroke="#000" stroke-width="0.15">500</text>
<rect x="63.2" y="396.8" width="29.599999999999994" height="21.80000000000001" fill="#000" stroke="#000" stroke-width="1.3"/>
<path d="M78.0,396.8V395.6M72.0,395.6H84.0" stroke="#000" stroke-width="1.4" fill="none"/>
<rect x="92.8" y="308.3" width="29.400000000000006" height="110.30000000000001" fill="#fff" stroke="#000" stroke-width="1.3"/>
<path d="M107.5,308.3V303.8M101.5,303.8H113.5" stroke="#000" stroke-width="1.4" fill="none"/>
<rect x="122.2" y="264.2" width="29.60000000000001" height="154.40000000000003" fill="#c3c3c3" stroke="#000" stroke-width="1.3"/>
<path d="M137.0,264.2V256.8M131.0,256.8H143.0" stroke="#000" stroke-width="1.4" fill="none"/>
<rect x="164.7" y="402.2" width="29.80000000000001" height="16.400000000000034" fill="#000" stroke="#000" stroke-width="1.3"/>
<path d="M179.6,402.2V401M173.6,401H185.6" stroke="#000" stroke-width="1.4" fill="none"/>
<rect x="194.5" y="311" width="30.0" height="107.60000000000002" fill="#fff" stroke="#000" stroke-width="1.3"/>
<path d="M209.5,311V308.3M203.5,308.3H215.5" stroke="#000" stroke-width="1.4" fill="none"/>
<rect x="224.5" y="285.5" width="29.30000000000001" height="133.10000000000002" fill="#c3c3c3" stroke="#000" stroke-width="1.3"/>
<path d="M239.15,285.5V275M233.15,275H245.15" stroke="#000" stroke-width="1.4" fill="none"/>
<rect x="53.4" y="245.9" width="10.9" height="8.8" fill="#000" stroke="#000" stroke-width="1.4"/>
<text font-family="Liberation Sans, sans-serif" font-size="10.4" x="67.7" y="255.0" textLength="39" lengthAdjust="spacingAndGlyphs" stroke="#000" stroke-width="0.2">pt1-LCL</text>
<text font-family="Liberation Sans, sans-serif" font-size="8.8" x="107.7" y="250.70000000000002" textLength="8.8" lengthAdjust="spacingAndGlyphs" stroke="#000" stroke-width="0.2">tet</text>
<rect x="53.4" y="259.1" width="10.9" height="8.8" fill="#fff" stroke="#000" stroke-width="1.4"/>
<text font-family="Liberation Sans, sans-serif" font-size="10.4" x="67.7" y="268.20000000000005" textLength="43" lengthAdjust="spacingAndGlyphs" stroke="#000" stroke-width="0.2">D11-LCL</text>
<text font-family="Liberation Sans, sans-serif" font-size="8.8" x="112" y="263.90000000000003" textLength="8.8" lengthAdjust="spacingAndGlyphs" stroke="#000" stroke-width="0.2">tet</text>
<rect x="53.4" y="272.3" width="10.9" height="8.8" fill="#c3c3c3" stroke="#000" stroke-width="1.4"/>
<text font-family="Liberation Sans, sans-serif" font-size="10.4" x="67.7" y="281.40000000000003" textLength="36.3" lengthAdjust="spacingAndGlyphs" stroke="#000" stroke-width="0.2">C2-LCL</text>
<text font-family="Liberation Sans, sans-serif" font-size="8.8" x="105.9" y="277.1" textLength="8.8" lengthAdjust="spacingAndGlyphs" stroke="#000" stroke-width="0.2">tet</text>
<g transform="translate(15.3,0) rotate(-90)">
<text font-family="Liberation Sans, sans-serif" font-size="10.9" x="-395.4" y="0" textLength="97" lengthAdjust="spacingAndGlyphs" stroke="#000" stroke-width="0.2">Transcript Amount</text>
<text font-family="Liberation Sans, sans-serif" font-size="10.9" x="-296.2" y="0" textLength="24.6" lengthAdjust="spacingAndGlyphs" stroke="#000" stroke-width="0.2">(x10</text>
<text font-family="Liberation Sans, sans-serif" font-size="9.2" x="-271.3" y="-4.6" stroke="#000" stroke-width="0.2">4</text>
<text font-family="Liberation Sans, sans-serif" font-size="10.9" x="-266.9" y="0" stroke="#000" stroke-width="0.2">)</text>
</g>
<text font-family="Liberation Sans, sans-serif" font-size="13" x="91.8" y="434.3" textLength="34.5" lengthAdjust="spacingAndGlyphs" stroke="#000" stroke-width="0.15">+TET</text>
<text font-family="Liberation Sans, sans-serif" font-size="13" x="196" y="434.3" textLength="30.3" lengthAdjust="spacingAndGlyphs" stroke="#000" stroke-width="0.15">-TET</text>
<path d="M60,439.6H259.2" stroke="#000" stroke-width="1.4"/>
<text font-family="Liberation Sans, sans-serif" font-size="16.6" x="130.3" y="458.7" textLength="57" lengthAdjust="spacingAndGlyphs" stroke="#000" stroke-width="0.15">CD23A</text>
<path d="M309.7,244.5V418.6H520" stroke="#000" stroke-width="1.5" fill="none"/>
<line x1="306.5" y1="419.00" x2="309.7" y2="419.00" stroke="#000" stroke-width="1.3"/>
<text font-family="Liberation Sans, sans-serif" font-size="12" text-anchor="end" x="304.6" y="424.20" stroke="#000" stroke-width="0.15">0</text>
<line x1="306.5" y1="385.60" x2="309.7" y2="385.60" stroke="#000" stroke-width="1.3"/>
<text font-family="Liberation Sans, sans-serif" font-size="12" text-anchor="end" x="304.6" y="390.80" stroke="#000" stroke-width="0.15">2</text>
<line x1="306.5" y1="352.20" x2="309.7" y2="352.20" stroke="#000" stroke-width="1.3"/>
<text font-family="Liberation Sans, sans-serif" font-size="12" text-anchor="end" x="304.6" y="357.40" stroke="#000" stroke-width="0.15">4</text>
<line x1="306.5" y1="318.80" x2="309.7" y2="318.80" stroke="#000" stroke-width="1.3"/>
<text font-family="Liberation Sans, sans-serif" font-size="12" text-anchor="end" x="304.6" y="324.00" stroke="#000" stroke-width="0.15">6</text>
<line x1="306.5" y1="285.40" x2="309.7" y2="285.40" stroke="#000" stroke-width="1.3"/>
<text font-family="Liberation Sans, sans-serif" font-size="12" text-anchor="end" x="304.6" y="290.60" stroke="#000" stroke-width="0.15">8</text>
<line x1="306.5" y1="252.00" x2="309.7" y2="252.00" stroke="#000" stroke-width="1.3"/>
<text font-family="Liberation Sans, sans-serif" font-size="12" text-anchor="end" x="304.6" y="257.20" stroke="#000" stroke-width="0.15">10</text>
<rect x="322.2" y="378.8" width="28.80000000000001" height="39.80000000000001" fill="#000" stroke="#000" stroke-width="1.3"/>
<path d="M336.6,378.8V377M330.6,377H342.6" stroke="#000" stroke-width="1.4" fill="none"/>
<rect x="351" y="317" width="28.69999999999999" height="101.60000000000002" fill="#fff" stroke="#000" stroke-width="1.3"/>
<path d="M365.35,317V314.5M359.35,314.5H371.35" stroke="#000" stroke-width="1.4" fill="none"/>
<rect x="379.7" y="261.3" width="29.100000000000023" height="157.3" fill="#c3c3c3" stroke="#000" stroke-width="1.3"/>
<path d="M394.25,261.3V255.5M388.25,255.5H400.25" stroke="#000" stroke-width="1.4" fill="none"/>
<rect x="421.2" y="392.5" width="28.80000000000001" height="26.100000000000023" fill="#000" stroke="#000" stroke-width="1.3"/>
<path d="M435.6,392.5V390.8M429.6,390.8H441.6" stroke="#000" stroke-width="1.4" fill="none"/>
<rect x="450" y="353" width="29" height="65.60000000000002" fill="#fff" stroke="#000" stroke-width="1.3"/>
<path d="M464.5,353V344.8M458.5,344.8H470.5" stroke="#000" stroke-width="1.4" fill="none"/>
<rect x="479" y="302.4" width="29.30000000000001" height="116.20000000000005" fill="#c3c3c3" stroke="#000" stroke-width="1.3"/>
<path d="M493.65,302.4V296.7M487.65,296.7H499.65" stroke="#000" stroke-width="1.4" fill="none"/>
<text font-family="Liberation Sans, sans-serif" font-size="13" x="352.4" y="434.4" textLength="35.3" lengthAdjust="spacingAndGlyphs" stroke="#000" stroke-width="0.15">+TET</text>
<text font-family="Liberation Sans, sans-serif" font-size="13" x="448.4" y="434.3" textLength="31.2" lengthAdjust="spacingAndGlyphs" stroke="#000" stroke-width="0.15">-TET</text>
<path d="M317.3,439.8H514.8" stroke="#000" stroke-width="1.4"/>
<text font-family="Liberation Sans, sans-serif" font-size="16.6" x="387.2" y="458" textLength="56" lengthAdjust="spacingAndGlyphs" stroke="#000" stroke-width="0.15">CD23B</text>
</g>
</svg>
</body></html>
